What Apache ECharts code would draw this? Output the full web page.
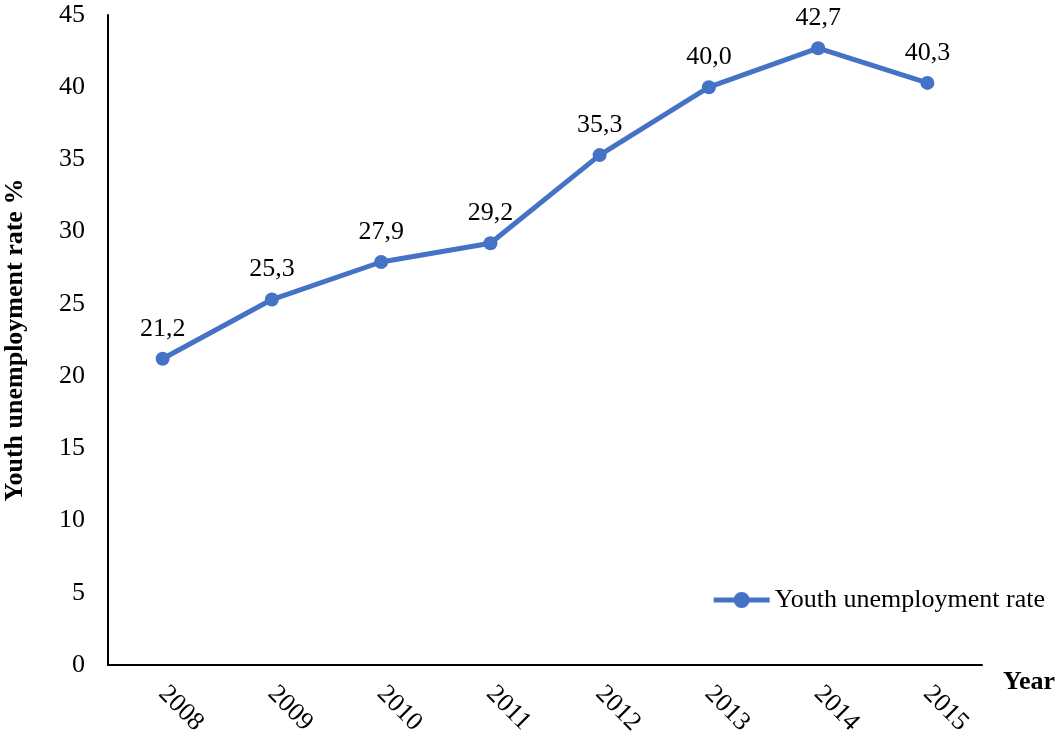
<!DOCTYPE html>
<html>
<head>
<meta charset="utf-8">
<script src="https://cdn.jsdelivr.net/npm/echarts@6/dist/echarts.min.js"></script>
<style>
  html, body { margin: 0; padding: 0; background: #fff; }
  #chart { width: 1060px; height: 742px; }
</style>
</head>
<body>
<div id="chart"></div>
<script>
// Youth unemployment rate by year (%)
const years = ['2008', '2009', '2010', '2011', '2012', '2013', '2014', '2015'];
const rates = [21.2, 25.3, 27.9, 29.2, 35.3, 40.0, 42.7, 40.3];
const seriesName = 'Youth unemployment rate';

const font = '"Liberation Serif", "Times New Roman", serif';
const blue = '#4472C4';

const chart = echarts.init(document.getElementById('chart'));
chart.setOption({
  animation: false,
  backgroundColor: '#fff',
  textStyle: { fontFamily: font },
  grid: { left: 108, right: 78, top: 15, bottom: 77, containLabel: false, outerBoundsMode: 'none' },
  legend: {
    data: [seriesName],
    right: 10,
    top: 582,
    itemWidth: 56,
    itemHeight: 20,
    itemGap: 4,
    lineStyle: { width: 5 },
    textStyle: { fontFamily: font, fontSize: 26, color: '#000', padding: [0, 0, 0, 0] }
  },
  xAxis: {
    type: 'category',
    data: years,
    boundaryGap: true,
    name: 'Year',
    nameLocation: 'end',
    nameGap: 21,
    nameTextStyle: { fontFamily: font, fontSize: 26, fontWeight: 'bold', color: '#000', verticalAlign: 'top', padding: [4, 0, 0, 0] },
    axisLine: { lineStyle: { color: '#000', width: 2 } },
    axisTick: { show: false },
    axisLabel: { rotate: -45, fontFamily: font, fontSize: 26, color: '#000', margin: 25 }
  },
  yAxis: {
    type: 'value',
    min: 0,
    max: 45,
    interval: 5,
    name: 'Youth unemployment rate %',
    nameLocation: 'middle',
    nameGap: 80,
    nameTextStyle: { fontFamily: font, fontSize: 26, fontWeight: 'bold', color: '#000' },
    axisLine: { show: true, lineStyle: { color: '#000', width: 2 } },
    axisTick: { show: false },
    splitLine: { show: false },
    axisLabel: { fontFamily: font, fontSize: 26, color: '#000', margin: 23 }
  },
  series: [{
    name: seriesName,
    type: 'line',
    data: rates,
    color: blue,
    lineStyle: { color: blue, width: 5 },
    itemStyle: { color: blue },
    symbol: 'circle',
    symbolSize: 14,
    label: {
      show: true,
      position: 'top',
      distance: 10,
      fontFamily: font,
      fontSize: 26,
      color: '#000',
      formatter: p => p.value.toFixed(1).replace('.', ',')
    }
  }]
});
</script>
</body>
</html>
